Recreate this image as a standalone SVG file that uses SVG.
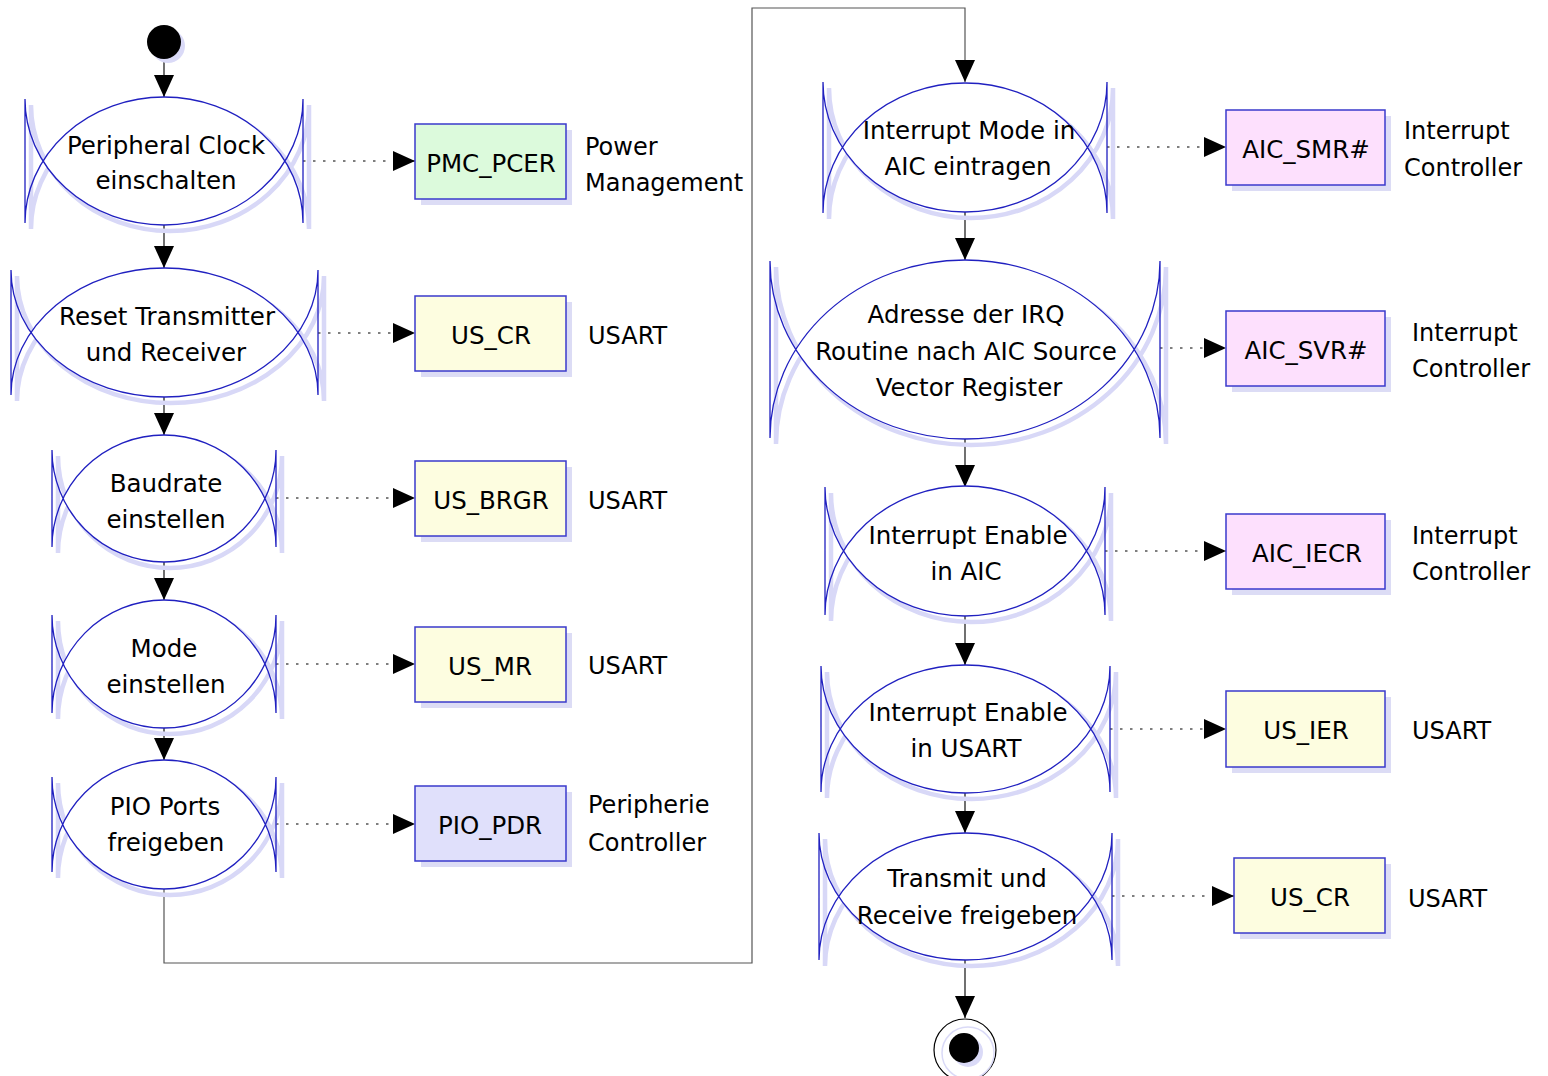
<svg xmlns="http://www.w3.org/2000/svg" xmlns:xlink="http://www.w3.org/1999/xlink" width="1548" height="1076" viewBox="0 0 1548 1076">
  <style>
    text { font-family: "DejaVu Sans", "Liberation Sans", sans-serif; font-size: 24.5px; fill: #000; }
    .ct { text-anchor: middle; }
    .lbl { font-size: 24px; }
    .edge { fill: none; stroke: #2020c0; stroke-width: 1.3; }
    .shd { fill: none; stroke: #d8d8f7; stroke-width: 4.5; }
    .lens { fill: #fff; stroke: none; }
    .box { stroke: #3a3acc; stroke-width: 1.5; }
    .bshd { fill: #dcdcf5; }
    .yel { fill: #fdfde0; }
    .grn { fill: #dcfadc; }
    .lav { fill: #e0e0fb; }
    .pnk { fill: #fde0fd; }
    .flow { fill: none; stroke: #111; stroke-width: 1.2; marker-end: url(#tri); }
    .loop { stroke: #555; }
    .dep { fill: none; stroke: #000; stroke-width: 1.2; stroke-dasharray: 2.5 7.5; marker-end: url(#tri); }
  </style>
  <defs>
    <marker id="tri" markerUnits="userSpaceOnUse" markerWidth="22" markerHeight="20" refX="22" refY="10" orient="auto" viewBox="0 0 22 20">
      <path d="M0,0L22,10L0,20Z" fill="#000"/>
    </marker>
    <!-- activity outlines: two side bars plus two crossing half-ellipses -->
    <path id="s1" d="M25,99V223M303,99V223M25,223A139,126 0 0 1 303,223M25,99A139,126 0 0 0 303,99"/>
    <path id="s2" d="M11,270V395M318,270V395M11,395A153.5,127 0 0 1 318,395M11,270A153.5,127 0 0 0 318,270"/>
    <path id="s3" d="M52,450V547M276,450V547M52,547A112,112 0 0 1 276,547M52,450A112,112 0 0 0 276,450"/>
    <path id="s4" d="M52,615V713M276,615V713M52,713A112,113 0 0 1 276,713M52,615A112,113 0 0 0 276,615"/>
    <path id="s5" d="M52,777V872M276,777V872M52,872A112,112 0 0 1 276,872M52,777A112,112 0 0 0 276,777"/>
    <path id="s6" d="M823,82V213M1107,82V213M823,213A142,130 0 0 1 1107,213M823,82A142,130 0 0 0 1107,82"/>
    <path id="s7" d="M770,261V438M1160,261V438M770,438A195,178 0 0 1 1160,438M770,261A195,178 0 0 0 1160,261"/>
    <path id="s8" d="M825,487V615M1105,487V615M825,615A140,129 0 0 1 1105,615M825,487A140,129 0 0 0 1105,487"/>
    <path id="s9" d="M821,666V792M1110,666V792M821,792A144.5,127 0 0 1 1110,792M821,666A144.5,127 0 0 0 1110,666"/>
    <path id="s10" d="M819,833V960M1112,833V960M819,960A146.5,127 0 0 1 1112,960M819,833A146.5,127 0 0 0 1112,833"/>
  </defs>

  <rect width="1548" height="1076" fill="#fff"/>

  <!-- connectors -->
  <g id="connectors">
    <path class="flow" d="M164,59V97"/>
    <path class="flow" d="M164,225V268"/>
    <path class="flow" d="M164,397V435"/>
    <path class="flow" d="M164,562V600"/>
    <path class="flow" d="M164,728V760"/>
    <path class="flow loop" d="M164,889V963H752V8H965V82"/>
    <path class="flow" d="M965,212V260"/>
    <path class="flow" d="M965,439V487"/>
    <path class="flow" d="M965,616V665"/>
    <path class="flow" d="M965,793V833"/>
    <path class="flow" d="M965,960V1018"/>

    <path class="dep" d="M303,161H415"/>
    <path class="dep" d="M318,333H415"/>
    <path class="dep" d="M276,498H415"/>
    <path class="dep" d="M276,664H415"/>
    <path class="dep" d="M276,824H415"/>
    <path class="dep" d="M1107,147H1226"/>
    <path class="dep" d="M1160,348H1226"/>
    <path class="dep" d="M1105,551H1226"/>
    <path class="dep" d="M1110,729H1226"/>
    <path class="dep" d="M1112,896H1234"/>
  </g>

  <!-- initial state -->
  <g id="start">
    <circle cx="168" cy="46" r="17" fill="#dadaf7"/>
    <circle cx="164" cy="42" r="17" fill="#000"/>
  </g>

  <!-- activities -->
  <g id="act-clock">
    <use xlink:href="#s1" class="shd" transform="translate(6,6)"/>
    <path class="lens" d="M43,161A139,126 0 0 1 285,161A139,126 0 0 1 43,161Z"/>
    <use xlink:href="#s1" class="edge"/>
    <text class="ct" x="166" y="154">Peripheral Clock</text>
    <text class="ct" x="166" y="189">einschalten</text>
  </g>
  <g id="act-reset">
    <use xlink:href="#s2" class="shd" transform="translate(6,6)"/>
    <path class="lens" d="M30.9,332.5A153.5,127 0 0 1 298.1,332.5A153.5,127 0 0 1 30.9,332.5Z"/>
    <use xlink:href="#s2" class="edge"/>
    <text class="ct" x="167" y="325">Reset Transmitter</text>
    <text class="ct" x="166" y="361">und Receiver</text>
  </g>
  <g id="act-baud">
    <use xlink:href="#s3" class="shd" transform="translate(6,6)"/>
    <path class="lens" d="M63.1,498.5A112,112 0 0 1 264.9,498.5A112,112 0 0 1 63.1,498.5Z"/>
    <use xlink:href="#s3" class="edge"/>
    <text class="ct" x="166" y="492">Baudrate</text>
    <text class="ct" x="166" y="528">einstellen</text>
  </g>
  <g id="act-mode">
    <use xlink:href="#s4" class="shd" transform="translate(6,6)"/>
    <path class="lens" d="M63.1,664A112,113 0 0 1 264.9,664A112,113 0 0 1 63.1,664Z"/>
    <use xlink:href="#s4" class="edge"/>
    <text class="ct" x="164" y="657">Mode</text>
    <text class="ct" x="166" y="693">einstellen</text>
  </g>
  <g id="act-pio">
    <use xlink:href="#s5" class="shd" transform="translate(6,6)"/>
    <path class="lens" d="M62.6,824.5A112,112 0 0 1 265.4,824.5A112,112 0 0 1 62.6,824.5Z"/>
    <use xlink:href="#s5" class="edge"/>
    <text class="ct" x="165" y="815">PIO Ports</text>
    <text class="ct" x="166" y="851">freigeben</text>
  </g>
  <g id="act-irqmode">
    <use xlink:href="#s6" class="shd" transform="translate(6,6)"/>
    <path class="lens" d="M842.3,147.5A142,130 0 0 1 1087.7,147.5A142,130 0 0 1 842.3,147.5Z"/>
    <use xlink:href="#s6" class="edge"/>
    <text class="ct" x="969" y="139">Interrupt Mode in</text>
    <text class="ct" x="968" y="175">AIC eintragen</text>
  </g>
  <g id="act-vector">
    <use xlink:href="#s7" class="shd" transform="translate(6,6)"/>
    <path class="lens" d="M795.8,349.5A195,178 0 0 1 1134.2,349.5A195,178 0 0 1 795.8,349.5Z"/>
    <use xlink:href="#s7" class="edge"/>
    <text class="ct" x="966" y="323">Adresse der IRQ</text>
    <text class="ct" x="966" y="360">Routine nach AIC Source</text>
    <text class="ct" x="969" y="396">Vector Register</text>
  </g>
  <g id="act-iecr">
    <use xlink:href="#s8" class="shd" transform="translate(6,6)"/>
    <path class="lens" d="M843.4,551A140,129 0 0 1 1086.6,551A140,129 0 0 1 843.4,551Z"/>
    <use xlink:href="#s8" class="edge"/>
    <text class="ct" x="968" y="544">Interrupt Enable</text>
    <text class="ct" x="966" y="580">in AIC</text>
  </g>
  <g id="act-ier">
    <use xlink:href="#s9" class="shd" transform="translate(6,6)"/>
    <path class="lens" d="M840,729A144.5,127 0 0 1 1091,729A144.5,127 0 0 1 840,729Z"/>
    <use xlink:href="#s9" class="edge"/>
    <text class="ct" x="968" y="721">Interrupt Enable</text>
    <text class="ct" x="966" y="757">in USART</text>
  </g>
  <g id="act-enable">
    <use xlink:href="#s10" class="shd" transform="translate(6,6)"/>
    <path class="lens" d="M838.6,896.5A146.5,127 0 0 1 1092.4,896.5A146.5,127 0 0 1 838.6,896.5Z"/>
    <use xlink:href="#s10" class="edge"/>
    <text class="ct" x="967" y="887">Transmit und</text>
    <text class="ct" x="967" y="924">Receive freigeben</text>
  </g>

  <!-- final state -->
  <g id="end">
    <circle cx="965" cy="1050" r="31" fill="#fff" stroke="#000" stroke-width="1.2"/>
    <circle cx="968" cy="1053" r="26" fill="none" stroke="#dadaf7" stroke-width="1.5"/>
    <circle cx="968" cy="1052" r="15" fill="#dadaf7"/>
    <circle cx="964" cy="1048" r="15" fill="#000"/>
  </g>

  <!-- register boxes -->
  <g id="reg-pmc-pcer">
    <rect class="bshd" x="421" y="130" width="151" height="75"/>
    <rect class="box grn" x="415" y="124" width="151" height="75"/>
    <text class="ct" x="491" y="172">PMC_PCER</text>
  </g>
  <g id="reg-us-cr-1">
    <rect class="bshd" x="421" y="302" width="151" height="75"/>
    <rect class="box yel" x="415" y="296" width="151" height="75"/>
    <text class="ct" x="491" y="344">US_CR</text>
  </g>
  <g id="reg-us-brgr">
    <rect class="bshd" x="421" y="467" width="151" height="75"/>
    <rect class="box yel" x="415" y="461" width="151" height="75"/>
    <text class="ct" x="491" y="509">US_BRGR</text>
  </g>
  <g id="reg-us-mr">
    <rect class="bshd" x="421" y="633" width="151" height="75"/>
    <rect class="box yel" x="415" y="627" width="151" height="75"/>
    <text class="ct" x="490" y="675">US_MR</text>
  </g>
  <g id="reg-pio-pdr">
    <rect class="bshd" x="421" y="792" width="151" height="75"/>
    <rect class="box lav" x="415" y="786" width="151" height="75"/>
    <text class="ct" x="490" y="834">PIO_PDR</text>
  </g>
  <g id="reg-aic-smr">
    <rect class="bshd" x="1232" y="116" width="159" height="75"/>
    <rect class="box pnk" x="1226" y="110" width="159" height="75"/>
    <text class="ct" x="1306" y="158">AIC_SMR#</text>
  </g>
  <g id="reg-aic-svr">
    <rect class="bshd" x="1232" y="317" width="159" height="75"/>
    <rect class="box pnk" x="1226" y="311" width="159" height="75"/>
    <text class="ct" x="1306" y="359">AIC_SVR#</text>
  </g>
  <g id="reg-aic-iecr">
    <rect class="bshd" x="1232" y="520" width="159" height="75"/>
    <rect class="box pnk" x="1226" y="514" width="159" height="75"/>
    <text class="ct" x="1307" y="562">AIC_IECR</text>
  </g>
  <g id="reg-us-ier">
    <rect class="bshd" x="1232" y="697" width="159" height="76"/>
    <rect class="box yel" x="1226" y="691" width="159" height="76"/>
    <text class="ct" x="1306" y="739">US_IER</text>
  </g>
  <g id="reg-us-cr-2">
    <rect class="bshd" x="1240" y="864" width="151" height="75"/>
    <rect class="box yel" x="1234" y="858" width="151" height="75"/>
    <text class="ct" x="1310" y="906">US_CR</text>
  </g>

  <!-- peripheral names -->
  <g id="peripheral-labels">
    <text class="lbl" x="585" y="155">Power</text>
    <text class="lbl" x="585" y="191">Management</text>
    <text class="lbl" x="588" y="344">USART</text>
    <text class="lbl" x="588" y="509">USART</text>
    <text class="lbl" x="588" y="674">USART</text>
    <text class="lbl" x="588" y="813">Peripherie</text>
    <text class="lbl" x="588" y="851">Controller</text>
    <text class="lbl" x="1404" y="139">Interrupt</text>
    <text class="lbl" x="1404" y="176">Controller</text>
    <text class="lbl" x="1412" y="341">Interrupt</text>
    <text class="lbl" x="1412" y="377">Controller</text>
    <text class="lbl" x="1412" y="544">Interrupt</text>
    <text class="lbl" x="1412" y="580">Controller</text>
    <text class="lbl" x="1412" y="739">USART</text>
    <text class="lbl" x="1408" y="907">USART</text>
  </g>
</svg>
